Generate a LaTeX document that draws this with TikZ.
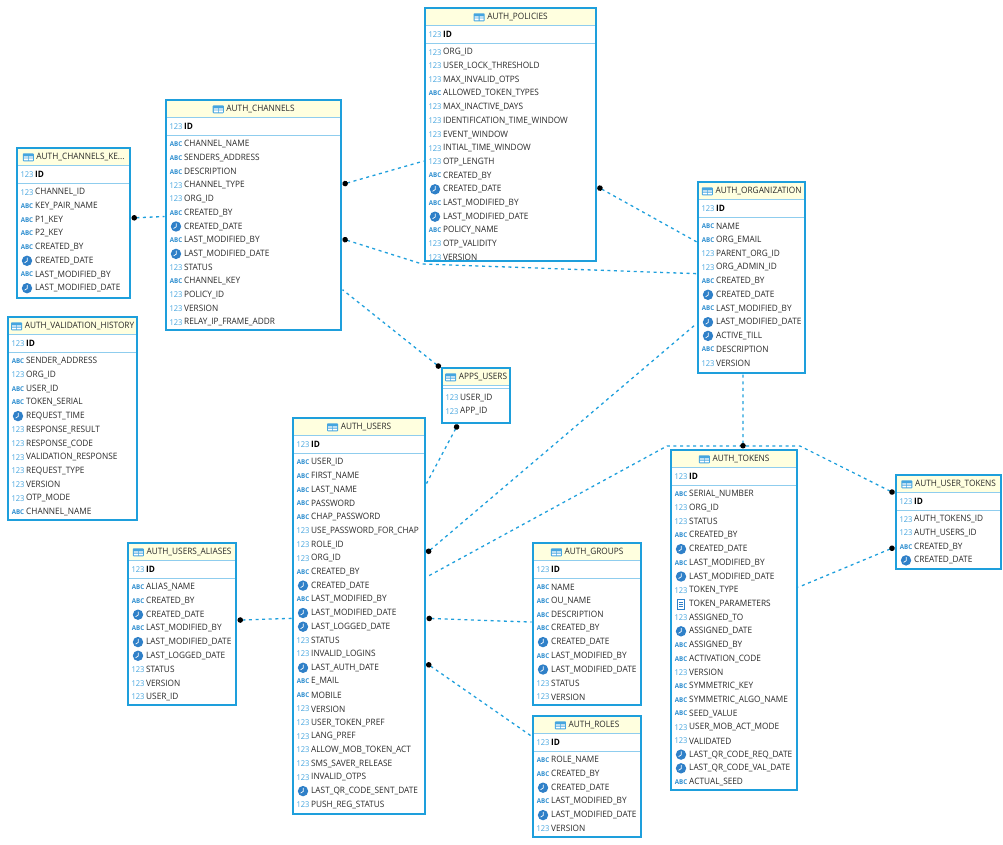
\documentclass[tikz,border=0pt]{standalone}
\usepackage{fontspec}
\usepackage{underscore}
\setmainfont[FakeStretch=0.94]{Open Sans}
\usetikzlibrary{arrows.meta,positioning,calc}

\definecolor{tabline}{HTML}{1E9FDC}
\definecolor{tabhead}{HTML}{FFFFDF}
\definecolor{tabsep}{HTML}{8FCDEE}
\definecolor{fieldtext}{HTML}{2A2A2A}
\definecolor{iconnum}{HTML}{45A5DF}
\definecolor{iconabc}{HTML}{2F8FD0}
\definecolor{iconclock}{HTML}{2F80C8}

\tikzset{
    tablebox/.style={rectangle,draw=tabline,line width=1.5pt,fill=white,outer sep=1.5pt},
    headbox/.style={rectangle,fill=tabhead,inner sep=0pt},
    title/.style={font=\fontsize{8.8}{10}\selectfont,text=fieldtext,inner sep=0pt},
    field/.style={font=\fontsize{8.8}{10}\selectfont,text=fieldtext,anchor=west,inner sep=0pt},
    keyfield/.style={field,font=\fontsize{8.8}{10}\selectfont\bfseries,text=black},
    relation/.style={draw=tabline,line width=1.3pt,dash pattern=on 3pt off 3.6pt},
    fk/.style={{Circle[length=5.5pt,width=5.5pt,black]}-},
    iconn/.pic={\node[text=iconnum,inner sep=0pt,font=\fontsize{8}{10}\selectfont] (lbl) at (0,0) {123};},
    icona/.pic={\node[text=iconabc,inner sep=0pt,font=\fontsize{6.6}{6}\selectfont\bfseries] (lbl) at (0,0) {ABC};},
    iconc/.pic={
        \fill[iconclock] (0,0) circle (5.2);
        \draw[white,line width=.7pt] (.2,-3.2) -- (.2,.3) -- (-2.4,2);
    },
    icond/.pic={
        \draw[iconclock,fill=white,line width=.5pt] (-3.5,-5) rectangle (3.5,5);
        \draw[iconclock,line width=.5pt] (-2,-2) -- (2,-2) (-2,0) -- (2,0) (-2,2) -- (2,2);
    },
    icont/.pic={
        \fill[iconnum,rounded corners=.8pt] (-5.5,-4) rectangle (5.5,4);
        \fill[white] (-4.5,-1) rectangle (-.4,.4) (.4,-1) rectangle (4.5,.4)
            (-4.5,1.2) rectangle (-.4,3) (.4,1.2) rectangle (4.5,3);
    },
}

% [key row] name, left, top, right, bottom, title
\newcommand{\tablenode}[7][ID]{
    \node[tablebox,minimum width={(#5-#3)*1pt},minimum height={(#6-#4)*1pt}]
        (#2) at ({(#3+#5)/2},{(#4+#6)/2}) {};
    \node[headbox,minimum width={(#5-#3-1.6)*1pt},minimum height=16pt]
        (#2-head) at ({(#3+#5)/2},#4+8.8) {};
    \node[title] (#2-title) at ({(#3+#5)/2+7},#4+9.3) {#7};
    \pic (#2-icon) at ([xshift=-8pt]#2-title.west) {icont};
    \draw[tabsep,line width=.8pt] (#3+.8,#4+17) -- (#5-.8,#4+17);
    \def\keyname{#1}
    \ifx\keyname\empty
        \def\rowtop{29.5}
        \draw[tabsep,line width=.8pt] (#3+.8,#4+20) -- (#5-.8,#4+20);
    \else
        \def\rowtop{44.3}
        \pic (#2-keyicon) at (#3+10,#4+26.3) {iconn};
        \node[keyfield] (#2-key) at (#3+18,#4+26.3) {#1};
        \draw[tabsep,line width=.8pt] (#3+.8,#4+35) -- (#5-.8,#4+35);
    \fi
}

\begin{document}
\begin{tikzpicture}[x=1pt,y=-1pt]
    \useasboundingbox (0,0) rectangle (1003,845);

    \foreach \tid/\xa/\ya/\xb/\yb/\ttl/\keyn/\rows in {
        keys/17/148/130/298/{AUTH_CHANNELS_KE...}/ID/{n/CHANNEL_ID,a/KEY_PAIR_NAME,a/P1_KEY,a/P2_KEY,a/CREATED_BY,c/CREATED_DATE,a/LAST_MODIFIED_BY,c/LAST_MODIFIED_DATE},
        channels/166/100/341/330/{AUTH_CHANNELS}/ID/{a/CHANNEL_NAME,a/SENDERS_ADDRESS,a/DESCRIPTION,n/CHANNEL_TYPE,n/ORG_ID,a/CREATED_BY,c/CREATED_DATE,a/LAST_MODIFIED_BY,c/LAST_MODIFIED_DATE,n/STATUS,a/CHANNEL_KEY,n/POLICY_ID,n/VERSION,n/RELAY_IP_FRAME_ADDR},
        policies/425/8/596/261/{AUTH_POLICIES}/ID/{n/ORG_ID,n/USER_LOCK_THRESHOLD,n/MAX_INVALID_OTPS,a/ALLOWED_TOKEN_TYPES,n/MAX_INACTIVE_DAYS,n/IDENTIFICATION_TIME_WINDOW,n/EVENT_WINDOW,n/INTIAL_TIME_WINDOW,n/OTP_LENGTH,a/CREATED_BY,c/CREATED_DATE,a/LAST_MODIFIED_BY,c/LAST_MODIFIED_DATE,a/POLICY_NAME,n/OTP_VALIDITY,n/VERSION},
        org/698/182/805/373/{AUTH_ORGANIZATION}/ID/{a/NAME,a/ORG_EMAIL,n/PARENT_ORG_ID,n/ORG_ADMIN_ID,a/CREATED_BY,c/CREATED_DATE,a/LAST_MODIFIED_BY,c/LAST_MODIFIED_DATE,c/ACTIVE_TILL,a/DESCRIPTION,n/VERSION},
        history/8/317/137/520/{AUTH_VALIDATION_HISTORY}/ID/{a/SENDER_ADDRESS,n/ORG_ID,a/USER_ID,a/TOKEN_SERIAL,c/REQUEST_TIME,n/RESPONSE_RESULT,n/RESPONSE_CODE,n/VALIDATION_RESPONSE,n/REQUEST_TYPE,n/VERSION,n/OTP_MODE,a/CHANNEL_NAME},
        apps/442/368/510/423/{APPS_USERS}//{n/USER_ID,n/APP_ID},
        users/293/418/425/814/{AUTH_USERS}/ID/{a/USER_ID,a/FIRST_NAME,a/LAST_NAME,a/PASSWORD,a/CHAP_PASSWORD,n/USE_PASSWORD_FOR_CHAP,n/ROLE_ID,n/ORG_ID,a/CREATED_BY,c/CREATED_DATE,a/LAST_MODIFIED_BY,c/LAST_MODIFIED_DATE,c/LAST_LOGGED_DATE,n/STATUS,n/INVALID_LOGINS,c/LAST_AUTH_DATE,a/E_MAIL,a/MOBILE,n/VERSION,n/USER_TOKEN_PREF,n/LANG_PREF,n/ALLOW_MOB_TOKEN_ACT,n/SMS_SAVER_RELEASE,n/INVALID_OTPS,c/LAST_QR_CODE_SENT_DATE,n/PUSH_REG_STATUS},
        aliases/128/543/236/705/{AUTH_USERS_ALIASES}/ID/{a/ALIAS_NAME,a/CREATED_BY,c/CREATED_DATE,a/LAST_MODIFIED_BY,c/LAST_MODIFIED_DATE,c/LAST_LOGGED_DATE,n/STATUS,n/VERSION,n/USER_ID},
        groups/533/543/641/705/{AUTH_GROUPS}/ID/{a/NAME,a/OU_NAME,a/DESCRIPTION,a/CREATED_BY,c/CREATED_DATE,a/LAST_MODIFIED_BY,c/LAST_MODIFIED_DATE,n/STATUS,n/VERSION},
        roles/533/716/641/837/{AUTH_ROLES}/ID/{a/ROLE_NAME,a/CREATED_BY,c/CREATED_DATE,a/LAST_MODIFIED_BY,c/LAST_MODIFIED_DATE,n/VERSION},
        tokens/671/450/797/790/{AUTH_TOKENS}/ID/{a/SERIAL_NUMBER,n/ORG_ID,n/STATUS,a/CREATED_BY,c/CREATED_DATE,a/LAST_MODIFIED_BY,c/LAST_MODIFIED_DATE,n/TOKEN_TYPE,d/TOKEN_PARAMETERS,n/ASSIGNED_TO,c/ASSIGNED_DATE,a/ASSIGNED_BY,a/ACTIVATION_CODE,n/VERSION,a/SYMMETRIC_KEY,a/SYMMETRIC_ALGO_NAME,a/SEED_VALUE,n/USER_MOB_ACT_MODE,n/VALIDATED,c/LAST_QR_CODE_REQ_DATE,c/LAST_QR_CODE_VAL_DATE,a/ACTUAL_SEED},
        utokens/896/475/1001/569/{AUTH_USER_TOKENS}/ID/{n/AUTH_TOKENS_ID,n/AUTH_USERS_ID,a/CREATED_BY,c/CREATED_DATE}%
    }{
        \expandafter\tablenode\expandafter[\keyn]{\tid}{\xa}{\ya}{\xb}{\yb}{\ttl}
        \begin{scope}
            \clip (\xa,\ya) rectangle (\xb,\yb-1);
            \foreach \kind/\field [count=\i from 0] in \rows {
                \pic (\tid-\i-ico) at (\xa+10,\ya+\rowtop+13.7*\i) {icon\kind};
                \node[field] (\tid-\i) at (\xa+18,\ya+\rowtop+13.7*\i) {\field};
            }
        \end{scope}
    }

    % relations
    \coordinate (bendorg) at (422,264);
    \coordinate (bendleft) at (667,446);
    \coordinate (bendright) at (800,446);
    \draw[relation,fk] (keys.5) -- (channels.181);
    \draw[relation,fk] (channels.19) -- (policies.197);
    \draw[relation,fk] (channels.-15) -- (bendorg) -- (org.176);
    \draw[relation,fk] (apps.142) -- (channels.-40);
    \draw[relation,fk] (policies.-31) -- (org.147);
    \draw[relation,fk] (apps.238) -- (users.63);
    \draw[relation,fk] (users.43) -- (org.220);
    \draw[relation,fk] (utokens.152) -- (bendright) -- (bendleft) -- (users.30);
    \draw[relation,fk] (tokens.87) -- (org.265);
    \draw[relation,fk] (utokens.205) -- (tokens.27);
    \draw[relation,fk] (aliases.4) -- (users.182);
    \draw[relation,fk] (users.-2) -- (groups.178);
    \draw[relation,fk] (users.-35) -- (roles.144);
\end{tikzpicture}
\end{document}
